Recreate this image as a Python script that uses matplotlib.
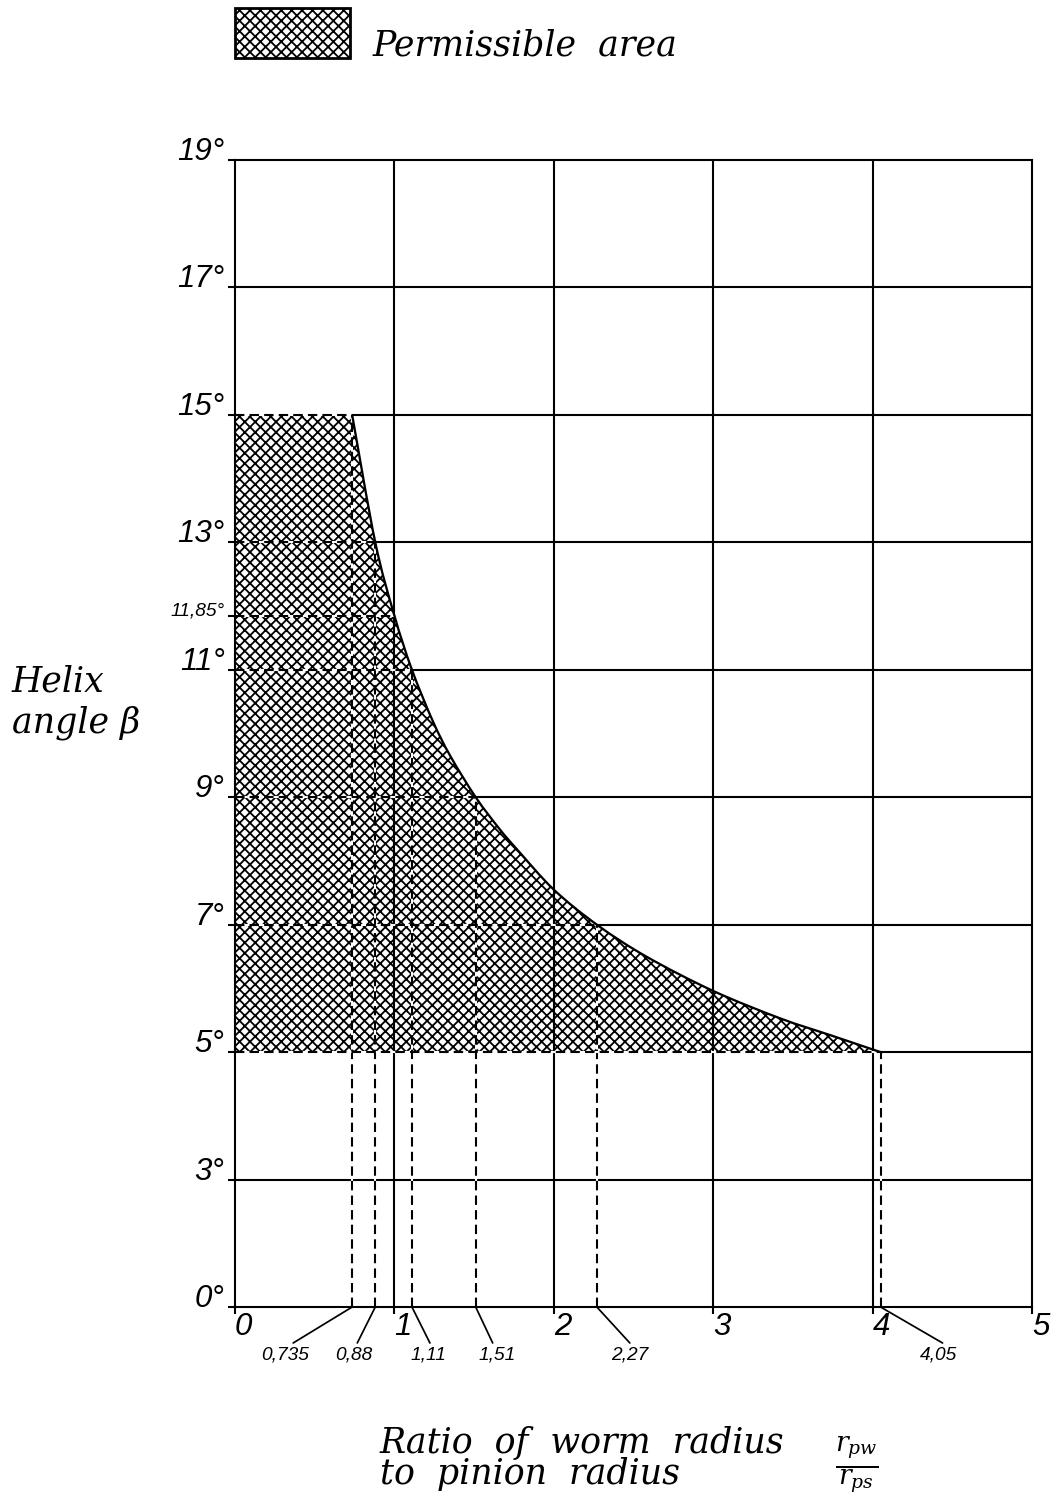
import matplotlib
matplotlib.use("Agg")
import matplotlib.pyplot as plt
from matplotlib.patches import PathPatch, Rectangle
from matplotlib.path import Path

# ---------------- data ----------------
x_ticks = [0, 1, 2, 3, 4, 5]
x_tick_labels = ["0", "1", "2", "3", "4", "5"]
# axis positions of the angle ticks (0° is drawn one step below 3°)
y_tick_pos = [1, 3, 5, 7, 9, 11, 13, 15, 17, 19]
y_tick_labels = ["0°", "3°", "5°", "7°", "9°", "11°", "13°", "15°", "17°", "19°"]
special_angle = 11.85
special_angle_label = "11,85°"
special_angle_x = 1.0

# boundary curve of the permissible area
curve_x = [0.735, 0.88, 1.0, 1.11, 1.24, 1.35, 1.51, 1.66, 1.77, 2.0, 2.27,
           2.58, 3.0, 3.42, 3.73, 4.05]
curve_y = [15, 13, 11.85, 11, 10.2, 9.65, 9, 8.5, 8.18, 7.55, 7,
           6.5, 5.96, 5.53, 5.27, 5]

marked_x = [0.735, 0.88, 1.11, 1.51, 2.27, 4.05]
marked_y = [15, 13, 11, 9, 7, 5]
marked_labels = ["0,735", "0,88", "1,11", "1,51", "2,27", "4,05"]

beta_min = 5
beta_max = 15

# ---------------- style ----------------
W, H = 1054, 1498
DPI = 125
plt.rcParams["hatch.linewidth"] = 1.05
plt.rcParams["mathtext.fontset"] = "dejavuserif"
SERIF = "DejaVu Serif"
SANS = "Liberation Sans"
LW = 1.2
DASH = (0, (4.5, 2.5))
HATCH = "xxxx"

fig = plt.figure(figsize=(W / DPI, H / DPI), dpi=DPI)
fig.patch.set_facecolor("white")


def fx(px):
    return px / W


def fy(py):
    return 1 - py / H


def smooth_path_codes(xs, ys):
    """Catmull-Rom style Bezier path through the given points."""
    pts = list(zip(xs, ys))
    verts = [pts[0]]
    codes = [Path.MOVETO]
    n = len(pts)
    for i in range(n - 1):
        p0 = pts[i - 1] if i > 0 else pts[i]
        p1 = pts[i]
        p2 = pts[i + 1]
        p3 = pts[i + 2] if i + 2 < n else pts[i + 1]
        c1 = (p1[0] + (p2[0] - p0[0]) / 6, p1[1] + (p2[1] - p0[1]) / 6)
        c2 = (p2[0] - (p3[0] - p1[0]) / 6, p2[1] - (p3[1] - p1[1]) / 6)
        verts += [c1, c2, p2]
        codes += [Path.CURVE4] * 3
    return verts, codes


ax = fig.add_axes([fx(235), fy(1307), fx(1032) - fx(235), fy(160) - fy(1307)])
ax.set_xlim(0, 5)
ax.set_ylim(1, 19)
for s in ax.spines.values():
    s.set_linewidth(LW)
    s.set_zorder(5)

cverts, ccodes = smooth_path_codes(curve_x, curve_y)

# hatched permissible area
area_verts = [(0, beta_min), (0, beta_max)] + cverts + [(0, beta_min)]
area_codes = [Path.MOVETO, Path.LINETO, Path.LINETO] + ccodes[1:] + [Path.CLOSEPOLY]
area = PathPatch(Path(area_verts, area_codes), facecolor="white",
                 edgecolor="black", linewidth=0, hatch=HATCH, zorder=1)
ax.add_patch(area)

# vertical grid lines
for xv in x_ticks[1:-1]:
    ax.plot([xv, xv], [1, 19], color="black", lw=LW, zorder=2)

# horizontal grid lines (solid parts outside the area)
start_map = dict(zip(marked_y, marked_x))
for yv in y_tick_pos[1:-1]:
    x0 = start_map.get(yv, 0)
    ax.plot([x0, 5], [yv, yv], color="black", lw=LW, zorder=2)

# dashed construction lines
for mx, my in zip(marked_x, marked_y):
    ax.plot([0, mx], [my, my], color="black", lw=LW, ls=DASH,
            gapcolor="white", zorder=3)
    ax.plot([mx, mx], [1, my], color="black", lw=LW, ls=DASH,
            gapcolor="white", zorder=3)
ax.plot([0, special_angle_x], [special_angle, special_angle], color="black",
        lw=LW, ls=DASH, gapcolor="white", zorder=3)

# boundary curve
ax.add_patch(PathPatch(Path(cverts, ccodes), facecolor="none",
                       edgecolor="black", lw=LW * 1.1, zorder=4))

# ticks
ax.set_yticks(y_tick_pos + [special_angle])
ax.set_yticklabels(y_tick_labels + [special_angle_label])
ax.set_xticks(x_ticks)
ax.set_xticklabels(x_tick_labels)
ax.tick_params(axis="y", direction="out", length=4, width=LW, pad=2)
ax.tick_params(axis="x", direction="out", length=4, width=LW, pad=-1)
for lab in ax.get_yticklabels():
    lab.set_fontfamily(SANS)
    lab.set_style("italic")
    lab.set_fontsize(18)
    lab.set_va("baseline")
ax.get_yticklabels()[-1].set_fontsize(11)
for lab in ax.get_xticklabels():
    lab.set_fontfamily(SANS)
    lab.set_style("italic")
    lab.set_fontsize(18)
    lab.set_ha("left")

# value labels with leader lines
line_dx = [-59, -18, 18, 17, 33, 62]
text_dx = [-67, -21, 17, 21, 33, 58]
for mx, lab, ldx, tdx in zip(marked_x, marked_labels, line_dx, text_dx):
    ax.annotate("", xy=(mx, 1), xycoords="data", xytext=(ldx, -36),
                textcoords="offset pixels",
                arrowprops=dict(arrowstyle="-", lw=1.0, color="black",
                                shrinkA=0, shrinkB=0),
                annotation_clip=False)
    ax.annotate(lab, xy=(mx, 1), xycoords="data", xytext=(tdx, -40),
                textcoords="offset pixels", ha="center", va="top",
                fontsize=11, family=SANS, style="italic",
                annotation_clip=False)

# legend
fig.add_artist(Rectangle((fx(235), fy(58)), fx(350) - fx(235), fy(8) - fy(58),
                         transform=fig.transFigure, facecolor="white",
                         edgecolor="black", lw=1.6, hatch=HATCH))
fig.text(fx(373), fy(55), "Permissible  area", family=SERIF, style="italic",
         fontsize=20, va="baseline", ha="left")

# axis titles
fig.text(fx(12), fy(692), "Helix", family=SERIF, style="italic",
         fontsize=20, va="baseline", ha="left")
fig.text(fx(12), fy(732), "angle β", family=SERIF, style="italic",
         fontsize=20, va="baseline", ha="left")
fig.text(fx(380), fy(1453), "Ratio  of  worm  radius", family=SERIF,
         style="italic", fontsize=20, va="baseline", ha="left")
fig.text(fx(380), fy(1484), "to  pinion  radius", family=SERIF,
         style="italic", fontsize=20, va="baseline", ha="left")
fig.text(fx(857), fy(1465), r"$\frac{r_{pw}}{r_{ps}}$", fontsize=22,
         va="center", ha="center")

fig.savefig("out.png", dpi=DPI, facecolor="white")
